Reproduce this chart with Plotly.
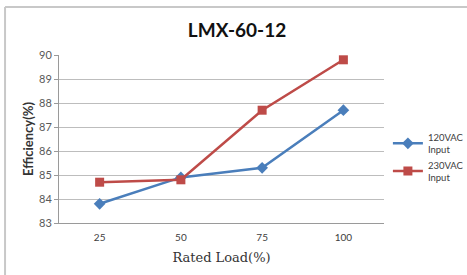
import plotly.graph_objects as go

categories = ["25", "50", "75", "100"]
eff_120 = [83.8, 84.9, 85.3, 87.7]
eff_230 = [84.7, 84.8, 87.7, 89.8]
y_ticks = [83, 84, 85, 86, 87, 88, 89, 90]

fig = go.Figure()
fig.add_trace(go.Scatter(
    x=categories, y=eff_120, mode="lines+markers", name="120VAC<br>Input",
    line=dict(color="#4A7EBB", width=2.5),
    marker=dict(symbol="diamond", size=9, color="#4A7EBB"),
))
fig.add_trace(go.Scatter(
    x=categories, y=eff_230, mode="lines+markers", name="230VAC<br>Input",
    line=dict(color="#BE4B48", width=2.5),
    marker=dict(symbol="square", size=9, color="#BE4B48"),
))

fig.update_layout(
    width=467, height=275,
    margin=dict(l=59, r=83, t=55, b=52, autoexpand=False),
    paper_bgcolor="white", plot_bgcolor="white",
    font=dict(family="Lato, Open Sans, sans-serif", color="#595959", size=11),
    title=dict(text="<b>LMX-60-12</b>", x=(237) / 467, xanchor="center",
               y=1 - 30 / 275, yanchor="middle",
               font=dict(size=19, color="#111111", family="Lato")),
    showlegend=True,
    legend=dict(x=1.012, y=0.39, xanchor="left", yanchor="middle",
                font=dict(size=9.5, color="#404040"), tracegroupgap=6,
                bgcolor="rgba(0,0,0,0)", itemwidth=30),
    xaxis=dict(
        type="category", showgrid=False, showline=True, linecolor="#9a9a9a",
        linewidth=1, ticks="", tickfont=dict(size=10, color="#404040"),
        automargin=False, ticklabelstandoff=5,
        title=dict(text="Rated Load(%)", standoff=10,
                   font=dict(family="DejaVu Serif, Liberation Serif, serif", size=13, color="#333333")),
        range=[-0.5, 3.5],
    ),
    yaxis=dict(
        range=[83, 90], tickvals=y_ticks, showgrid=True, gridcolor="#bdbdbd",
        gridwidth=1, showline=True, linecolor="#9a9a9a", ticks="outside",
        ticklen=4, tickcolor="#9a9a9a", tickfont=dict(size=11, color="#595959"),
        zeroline=False, automargin=False,
        title=dict(text="<b>Efficiency(%)</b>", standoff=2,
                   font=dict(size=13, color="#333333")),
    ),
    shapes=[
        dict(type="line", xref="paper", yref="paper", x0=-0.166, x1=1.26,
             y0=1.286, y1=1.286, line=dict(color="#c8c8c8", width=2)),
        dict(type="line", xref="paper", yref="paper", x0=-0.166, x1=-0.166,
             y0=1.286, y1=-0.33, line=dict(color="#c8c8c8", width=2)),
    ],
)

fig.write_html("out.html", config={"displayModeBar": False},
               post_script="document.body.style.margin='0';document.body.style.overflow='hidden';")
